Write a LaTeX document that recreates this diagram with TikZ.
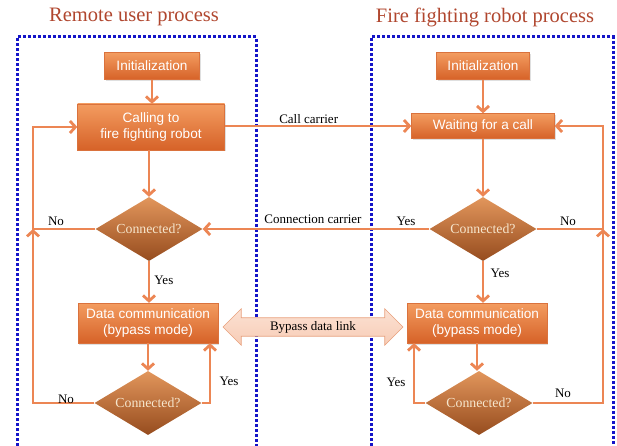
\documentclass[tikz,border=0pt]{standalone}
\usepackage{fontspec}
\setmainfont{Liberation Serif}
\newfontfamily\boxfont{Liberation Sans}
\usetikzlibrary{shapes.geometric,shapes.arrows,arrows.meta,shadows}

\definecolor{linkc}{RGB}{236,134,84}
\definecolor{boxtop}{RGB}{243,156,96}
\definecolor{boxbot}{RGB}{214,98,40}
\definecolor{diatop}{RGB}{226,150,92}
\definecolor{diabot}{RGB}{150,76,30}
\definecolor{diatext}{RGB}{246,230,205}
\definecolor{titlec}{RGB}{176,70,46}
\definecolor{framec}{RGB}{20,20,200}
\definecolor{bypassfill}{RGB}{250,212,192}
\definecolor{bypassedge}{RGB}{232,160,124}

\tikzset{
  procbox/.style={rectangle, top color=boxtop, bottom color=boxbot,
    draw=boxbot!90!white, line width=0.3pt, text=white,
    font=\boxfont\fontsize{13.6}{15.5}\selectfont, align=center,
    drop shadow={opacity=0.25, shadow xshift=1.2pt, shadow yshift=-1.5pt}},
  decision/.style={diamond, aspect=1.7, inner sep=1pt, top color=diatop,
    bottom color=diabot, text=diatext, font=\fontsize{13.8}{15}\selectfont,
    minimum width=107pt, minimum height=64pt},
  link/.style={draw=linkc, line width=2.8pt,
    -{Straight Barb[length=5.5pt,width=12pt]}},
  lbl/.style={font=\fontsize{13}{15}\selectfont, text=black, inner sep=1pt},
  ttl/.style={font=\fontsize{20.5}{24}\selectfont, text=titlec},
  frame/.style={draw=framec, line width=3pt, dash pattern=on 2.6pt off 2.4pt}
}

\begin{document}
\begin{tikzpicture}[x=1pt,y=-1pt]
\useasboundingbox (0,0) rectangle (617,446);

% titles
\node[ttl] (t1) at (134,17) {Remote user process};
\node[ttl] (t2) at (485,17) {Fire fighting robot process};

% dotted frames (open at the bottom)
\draw[frame] (17,446) -- (17,37) -- (256,37) -- (256,446);
\draw[frame] (371,446) -- (371,37) -- (613,37) -- (613,446);

% remote user column
\node[procbox, minimum width=95pt, minimum height=27pt] (init1) at (152,66) {Initialization};
\node[procbox, minimum width=147pt, minimum height=46pt] (call) at (151,127) {Calling to\\fire fighting robot};
\node[decision] (dia1) at (149,229) {Connected?};
\node[procbox, minimum width=140pt, minimum height=40pt] (data1) at (148,323) {Data communication\\(bypass mode)};
\node[decision] (dia2) at (148,403) {Connected?};

% robot column
\node[procbox, minimum width=93pt, minimum height=27pt] (init2) at (483,66) {Initialization};
\node[procbox, minimum width=143pt, minimum height=25pt] (wait) at (483,126) {Waiting for a call};
\node[decision] (dia3) at (483,229) {Connected?};
\node[procbox, minimum width=140pt, minimum height=40pt] (data2) at (477,323) {Data communication\\(bypass mode)};
\node[decision] (dia4) at (479,403) {Connected?};

% bypass data link
\node[double arrow, double arrow head extend=9pt, double arrow head indent=0pt,
  minimum height=180pt, inner ysep=3pt, top color=bypassfill!70!white,
  bottom color=bypassfill!85!bypassedge, draw=bypassedge, line width=0.6pt,
  font=\fontsize{13}{15}\selectfont] (bypass) at (313,327) {Bypass data link};

% junction points
\coordinate (lj) at (33,229);
\coordinate (rj) at (603,229);

% remote user connectors
\draw[link] (init1) -- (init1 |- call.north);
\draw[link] (dia1.north |- call.south) -- (dia1.north);
\draw[link] (dia1.south) -- node[lbl, right, pos=0.45, xshift=3pt] (y1) {Yes} (dia1.south |- data1.north);
\draw[link] (data1.south) -- (data1.south |- dia2.north);
\draw[link] (dia2.east) -- (210,403) -- (210,0 |- data1.south);
\draw[link] (dia2.west) -- (lj |- dia2.west) -- (lj);
\draw[link] (dia1.west) -- (lj) -- (lj |- call.west) -- (call.west);
\node[lbl] (n1) at (56,221) {No};
\node[lbl] (n2) at (66,399) {No};
\node[lbl] (y2) at (229,381) {Yes};

% carriers between processes
\draw[link] (call.east |- wait.west) -- node[lbl, above, pos=0.45] (cc) {Call carrier} (wait.west);
\draw[link] (dia3.west) -- (dia1.east);
\node[lbl] (conn) at (313,219) {Connection carrier};

% robot connectors
\draw[link] (init2) -- (wait.north);
\draw[link] (wait.south) -- (dia3.north);
\draw[link] (dia3.south) -- (dia3.south |- data2.north);
\draw[link] (data2.south) -- (data2.south |- dia4.north);
\draw[link] (dia4.west) -- (414,403) -- (414,0 |- data2.south);
\draw[link] (dia4.east) -- (rj |- dia4.east) -- (rj);
\draw[link] (dia3.east) -- (rj) -- (rj |- wait.east) -- (wait.east);
\node[lbl] (y3) at (406,221) {Yes};
\node[lbl] (n3) at (568,221) {No};
\node[lbl] (y4) at (500,273) {Yes};
\node[lbl] (y5) at (396,382) {Yes};
\node[lbl] (n4) at (563,393) {No};
\end{tikzpicture}
\end{document}
